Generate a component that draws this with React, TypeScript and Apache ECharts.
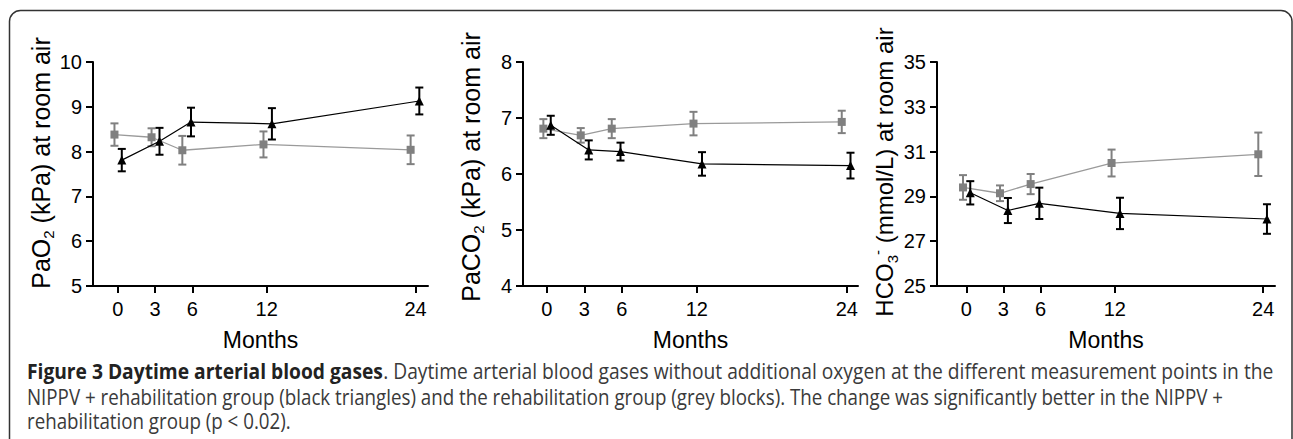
import React, { useEffect, useRef } from "react";
import * as echarts from "echarts";

// ---- data ----
const months = [0, 3, 6, 12, 24];
// plotted (nudged) x positions of the two groups, in months
const greyX = [-0.27, 2.72, 5.2, 11.74, 23.6];
const blackX = [0.32, 3.36, 5.9, 12.42, 24.3];

const pao2Grey = [8.38, 8.32, 8.03, 8.16, 8.04];
const pao2GreyErr = [0.25, 0.2, 0.32, 0.29, 0.32];
const pao2Black = [7.81, 8.23, 8.66, 8.62, 9.13];
const pao2BlackErr = [0.25, 0.3, 0.32, 0.35, 0.3];

const paco2Grey = [6.81, 6.69, 6.81, 6.9, 6.93];
const paco2GreyErr = [0.17, 0.13, 0.17, 0.21, 0.2];
const paco2Black = [6.87, 6.43, 6.4, 6.18, 6.15];
const paco2BlackErr = [0.17, 0.17, 0.16, 0.21, 0.23];

const hco3Grey = [29.4, 29.14, 29.55, 30.49, 30.88];
const hco3GreyErr = [0.55, 0.35, 0.45, 0.6, 0.97];
const hco3Black = [29.16, 28.37, 28.69, 28.24, 27.99];
const hco3BlackErr = [0.52, 0.56, 0.7, 0.7, 0.66];

const xTitle = "Months";
const caption1Bold = "Figure 3 Daytime arterial blood gases";
const caption1Rest =
  ". Daytime arterial blood gases without additional oxygen at the different measurement points in the";
const caption2 =
  "NIPPV + rehabilitation group (black triangles) and the rehabilitation group (grey blocks). The change was significantly better in the NIPPV +";
const caption3 = "rehabilitation group (p < 0.02).";

const FONT = "'Liberation Sans', Arial, sans-serif";
const CAP_FONT = "'Open Sans', 'Noto Sans', sans-serif";
const GREY = "#808080";
const GREY_LINE = "#9a9a9a";

const panels = [
  {
    left: 93, width: 335, xMin: -2, xMax: 25,
    yMin: 5, yMax: 10, yStep: 1, nameSize: 25,
    name: "{t|PaO}{sub|2}{t| (kPa) at room air}", namePad: 22,
    grey: pao2Grey, greyErr: pao2GreyErr, black: pao2Black, blackErr: pao2BlackErr,
  },
  {
    left: 523, width: 335, xMin: -1.9, xMax: 24.9,
    yMin: 4, yMax: 8, yStep: 1, nameSize: 25,
    name: "{t|PaCO}{sub|2}{t| (kPa) at room air}", namePad: 14,
    grey: paco2Grey, greyErr: paco2GreyErr, black: paco2Black, blackErr: paco2BlackErr,
  },
  {
    left: 937, width: 338, xMin: -2.37, xMax: 24.95,
    yMin: 25, yMax: 35, yStep: 2, nameSize: 24,
    name: "{t|HCO}{sub|3}{sup|-}{t| (mmol/L) at room air}", namePad: 4,
    grey: hco3Grey, greyErr: hco3GreyErr, black: hco3Black, blackErr: hco3BlackErr,
  },
];

function errRender(color: string) {
  return (params: any, api: any) => {
    const x = api.value(0);
    const lo = api.coord([x, api.value(1)]);
    const hi = api.coord([x, api.value(2)]);
    const hw = 4;
    const st = { stroke: color, lineWidth: 2 };
    return {
      type: "group",
      children: [
        { type: "line", shape: { x1: lo[0], y1: lo[1], x2: hi[0], y2: hi[1] }, style: st },
        { type: "line", shape: { x1: lo[0] - hw, y1: lo[1], x2: lo[0] + hw, y2: lo[1] }, style: st },
        { type: "line", shape: { x1: hi[0] - hw, y1: hi[1], x2: hi[0] + hw, y2: hi[1] }, style: st },
      ],
    };
  };
}

export default function App() {
  const ref = useRef<HTMLDivElement>(null);
  useEffect(() => {
    if (!ref.current) return;
    const chart = echarts.init(ref.current, null, { renderer: "svg" });
    const grid: any[] = [];
    const xAxis: any[] = [];
    const yAxis: any[] = [];
    const series: any[] = [];
    panels.forEach((p, i) => {
      grid.push({ left: p.left, top: 62, width: p.width, height: 224 });
      xAxis.push({
        type: "value", gridIndex: i, min: p.xMin, max: p.xMax,
        name: xTitle, nameLocation: "middle", nameGap: 42,
        nameTextStyle: { fontFamily: FONT, fontSize: 23, color: "#000" },
        axisLine: { show: true, onZero: false, lineStyle: { color: "#000", width: 2 } },
        axisTick: { show: true, length: 7, customValues: months, lineStyle: { color: "#000", width: 2 } },
        axisLabel: { customValues: months, margin: 13, fontFamily: FONT, fontSize: 20, color: "#000" },
        splitLine: { show: false },
      });
      yAxis.push({
        type: "value", gridIndex: i, min: p.yMin, max: p.yMax, interval: p.yStep,
        name: p.name, nameLocation: "middle", nameRotate: 90, nameGap: 37,
        nameTextStyle: {
          fontFamily: FONT, color: "#000", padding: [0, 0, 0, p.namePad],
          rich: {
            t: { fontFamily: FONT, fontSize: p.nameSize, lineHeight: 30, color: "#000", verticalAlign: "middle" },
            sub: { fontFamily: FONT, fontSize: 15, lineHeight: 15, color: "#000", verticalAlign: "bottom" },
            sup: { fontFamily: FONT, fontSize: 15, lineHeight: 15, color: "#000", verticalAlign: "top" },
          },
        },
        axisLine: { show: true, onZero: false, lineStyle: { color: "#000", width: 2 } },
        axisTick: { show: true, length: 7, lineStyle: { color: "#000", width: 2 } },
        axisLabel: { margin: 11, fontFamily: FONT, fontSize: 20, color: "#000" },
        splitLine: { show: false },
      });
      series.push({
        type: "custom", xAxisIndex: i, yAxisIndex: i,
        renderItem: errRender(GREY),
        encode: { x: 0, y: [1, 2] },
        data: greyX.map((x, k) => [x, p.grey[k] - p.greyErr[k], p.grey[k] + p.greyErr[k]]),
        z: 2,
      });
      series.push({
        type: "line", xAxisIndex: i, yAxisIndex: i,
        data: greyX.map((x, k) => [x, p.grey[k]]),
        symbol: "rect", symbolSize: 8,
        itemStyle: { color: GREY },
        lineStyle: { color: GREY_LINE, width: 1.3 },
        z: 3,
      });
      series.push({
        type: "custom", xAxisIndex: i, yAxisIndex: i,
        renderItem: errRender("#000"),
        encode: { x: 0, y: [1, 2] },
        data: blackX.map((x, k) => [x, p.black[k] - p.blackErr[k], p.black[k] + p.blackErr[k]]),
        z: 4,
      });
      series.push({
        type: "line", xAxisIndex: i, yAxisIndex: i,
        data: blackX.map((x, k) => [x, p.black[k]]),
        symbol: "triangle", symbolSize: 9,
        itemStyle: { color: "#000" },
        lineStyle: { color: "#000", width: 1.2 },
        z: 5,
      });
    });

    const capStyle = { fontFamily: CAP_FONT, fontSize: 21.5, fill: "#3a3a3a", verticalAlign: "middle" };
    const scaleX = 0.872;
    const option: any = {
      animation: false,
      backgroundColor: "#fff",
      grid, xAxis, yAxis, series,
      graphic: [
        {
          type: "rect", silent: true,
          shape: { x: 9.5, y: 10.5, width: 1282.5, height: 450, r: [11, 11, 0, 0] },
          style: { fill: "none", stroke: "#333", lineWidth: 1.5 },
        },
        {
          type: "text", x: 27, y: 371, scaleX: 0.894,
          style: {
            ...capStyle,
            text: "{b|" + caption1Bold + "}" + caption1Rest,
            rich: { b: { fontFamily: CAP_FONT, fontSize: 21.5, fontWeight: "bold", fill: "#222" } },
          },
        },
        { type: "text", x: 27, y: 396.5, scaleX, style: { ...capStyle, text: caption2 } },
        { type: "text", x: 27, y: 420, scaleX, style: { ...capStyle, text: caption3 } },
      ],
    };
    chart.setOption(option);
    return () => chart.dispose();
  }, []);
  return (
    <div
      ref={ref}
      style={{ position: "absolute", left: 0, top: 0, width: 1293, height: 439, background: "#fff" }}
    />
  );
}
